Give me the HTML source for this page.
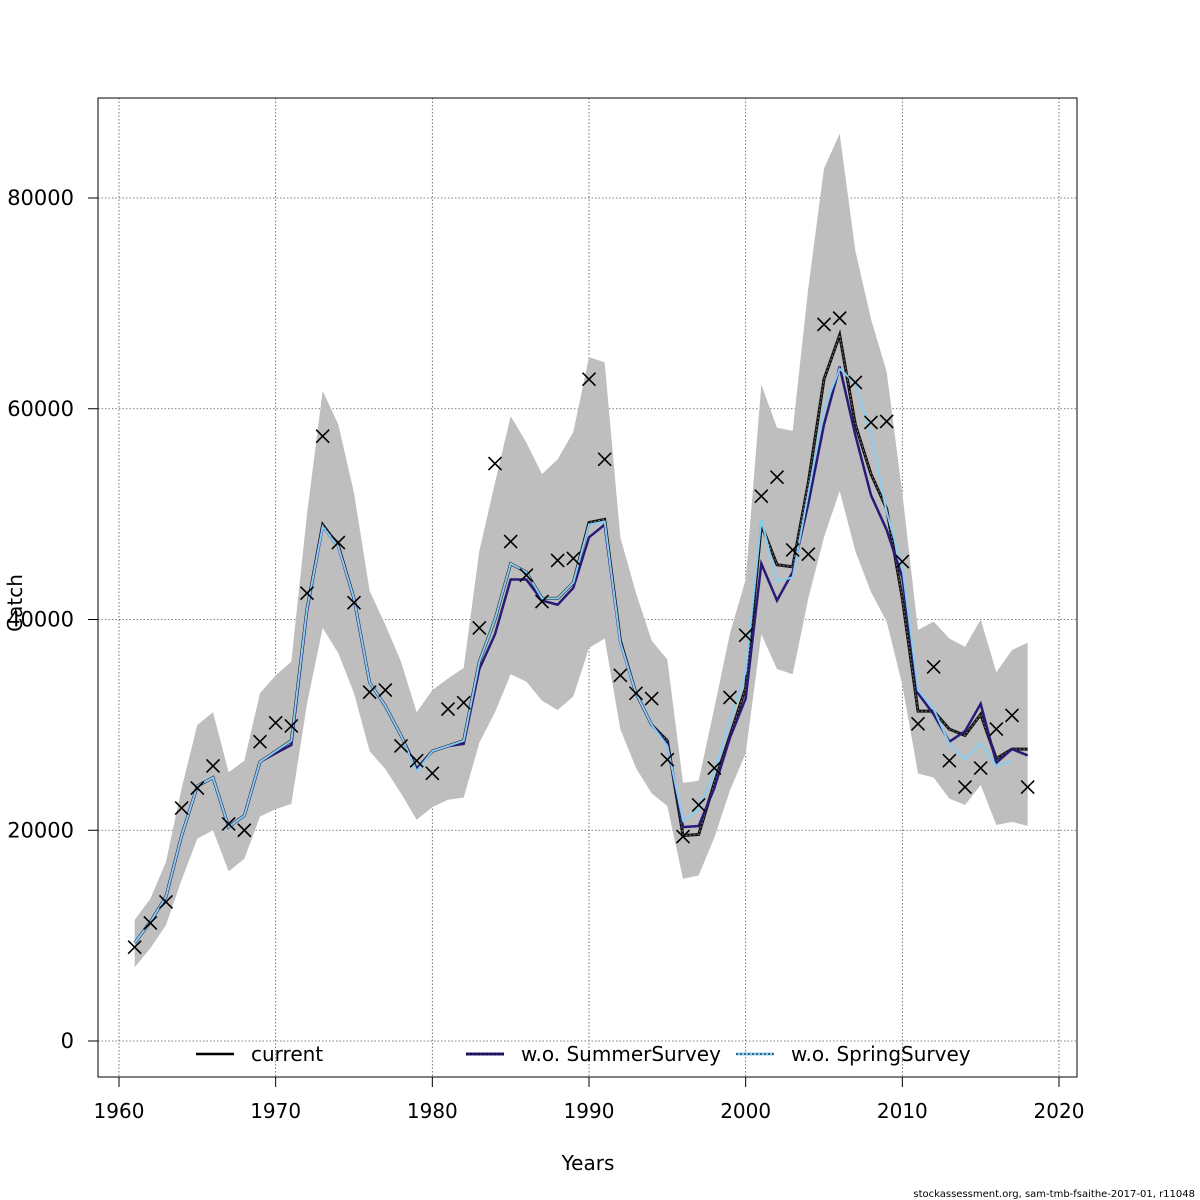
<!DOCTYPE html>
<html><head><meta charset="utf-8"><style>
body{margin:0;background:#fff}
svg{display:block;font-family:"DejaVu Sans","Liberation Sans",sans-serif}
</style></head><body>
<svg id="chart" width="1200" height="1200" viewBox="0 0 1200 1200" xmlns="http://www.w3.org/2000/svg">
<g id="grid"></g>
<g id="band"></g>
<g id="lines"></g>
<g id="obs"></g>
<rect x="98" y="98" width="979" height="979" fill="none" stroke="#000" stroke-width="1"/>
<g id="axes"></g>
<text x="588" y="1170" font-size="20" text-anchor="middle">Years</text>
<text x="22" y="603" font-size="20" text-anchor="middle" transform="rotate(-90 22 603)">Catch</text>
<g font-size="20">
 <g>
  <line x1="196" y1="1054" x2="234" y2="1054" stroke="#000" stroke-width="2.5"/>
  <text x="251" y="1061">current</text>
 </g>
 <g>
  <line x1="466" y1="1054" x2="504" y2="1054" stroke="#2a1a78" stroke-width="3"/>
  <line x1="466" y1="1054" x2="504" y2="1054" stroke="#000" stroke-width="1" stroke-dasharray="2,2"/>
  <text x="521" y="1061">w.o. SummerSurvey</text>
 </g>
 <g>
  <line x1="736" y1="1054" x2="774" y2="1054" stroke="#87cdf0" stroke-width="3"/>
  <line x1="736" y1="1054" x2="774" y2="1054" stroke="#000" stroke-width="1" stroke-dasharray="2,2"/>
  <text x="791" y="1061">w.o. SpringSurvey</text>
 </g>
</g>
<text x="1195" y="1197" font-size="10" text-anchor="end">stockassessment.org, sam-tmb-fsaithe-2017-01, r11048</text>
</svg>
<script>
const years=[];for(let y=1961;y<=2018;y++)years.push(y);
const observed=[8900,11200,13200,22100,24000,26100,20600,20000,28400,30200,29900,42500,57400,47300,41600,33100,33300,28000,26600,25400,31500,32100,39200,54800,47400,44200,41700,45600,45800,62800,55200,34700,33000,32500,26700,19400,22400,25900,32600,38500,51700,53500,46600,46200,68000,68600,62500,58700,58800,45500,30100,35500,26600,24100,25900,29600,30900,24100];
const current=[9300,11300,13700,19500,24200,25000,20300,21400,26500,27500,28500,41000,49000,47000,42000,34000,31800,29000,25800,27500,28000,28500,36000,40000,45300,44500,42000,42000,43500,49200,49500,38000,33000,30000,28500,19500,19600,24500,29000,33500,49000,45200,45000,53000,62800,67000,58500,53800,50500,42000,31300,31300,29600,29000,31000,26800,27700,27700];
const summer=[9300,11300,13700,19500,24200,25000,20300,21400,26500,27300,28100,40800,48800,46900,41900,34000,31800,29000,25800,27500,28000,28200,35300,38600,43800,43800,41800,41400,43000,47800,49000,37800,33000,30000,28200,20300,20400,24000,28800,32500,45300,41800,44500,51000,58500,64000,57500,51800,48500,44000,33000,31000,28400,29400,32000,26400,27700,27100];
const spring=[9300,11300,13700,19500,24200,25000,20300,21400,26500,27500,28500,41000,48800,46900,42000,34000,31800,29000,25600,27500,28000,28500,36000,40000,45300,44500,42000,42000,43500,49000,49300,37800,33000,30000,28000,20900,22000,25500,30500,35000,49500,43600,44000,52000,60000,63800,62400,57500,50200,45000,33300,31500,28200,26700,28300,26100,26600];
const upper=[11500,13500,17000,24000,30000,31200,25500,26600,33000,34700,36000,50000,61700,58500,52000,42700,39500,36000,31200,33300,34400,35400,46500,53000,59300,56800,53800,55200,57800,64900,64400,47800,42500,38000,36200,24500,24700,31600,38700,43800,62300,58200,57900,71500,82800,86100,75000,68500,63500,52000,39000,39800,38200,37400,40000,35000,37100,37800];
const lower=[7000,8800,11000,15300,19200,20000,16100,17300,21300,22000,22500,32000,39200,36800,33000,27500,25800,23500,21000,22200,22900,23100,28300,31200,34800,34100,32300,31400,32700,37300,38200,29600,25900,23500,22300,15400,15700,19300,23800,27300,38600,35300,34800,42000,47800,52200,46500,42600,39800,33800,25400,25000,23000,22400,24300,20500,20800,20400];
const xTicks=[1960,1970,1980,1990,2000,2010,2020];
const yTicks=[0,20000,40000,60000,80000];

const NS="http://www.w3.org/2000/svg";
const X=y=>119+(y-1960)*(940/60);
const Y=v=>1041-v*(843/80000);
function mk(tag,attrs,parent){const e=document.createElementNS(NS,tag);for(const k in attrs)e.setAttribute(k,attrs[k]);parent.appendChild(e);return e;}
const grid=document.getElementById('grid'),axes=document.getElementById('axes');
xTicks.forEach(t=>{
 const g=mk('line',{x1:X(t),x2:X(t),y1:98,y2:1077,stroke:'#555','stroke-width':0.8,'stroke-dasharray':'1.5,2'},grid);
 
 
 const tk=mk('line',{x1:X(t),x2:X(t),y1:1077,y2:1087,stroke:'#000'},axes);
 
 
 const tx=mk('text',{x:X(t),y:1118,'font-size':20,'text-anchor':'middle'},axes);tx.textContent=t;
 
 
});
yTicks.forEach(t=>{
 const g=mk('line',{x1:98,x2:1077,y1:Y(t),y2:Y(t),stroke:'#555','stroke-width':0.8,'stroke-dasharray':'1.5,2'},grid);
 
 
 const tk=mk('line',{x1:88,x2:98,y1:Y(t),y2:Y(t),stroke:'#000'},axes);
 
 
 const tx=mk('text',{x:74,y:Y(t)+7,'font-size':21,'text-anchor':'end'},axes);tx.textContent=t;
 
 
});
let pts=years.map((y,i)=>X(y)+','+Y(upper[i]));
for(let i=years.length-1;i>=0;i--)pts.push(X(years[i])+','+Y(lower[i]));
const band=mk('polygon',{points:pts.join(' '),fill:'#bebebe',stroke:'none'},document.getElementById('band'));


const L=document.getElementById('lines');
function line(arr,attrs,name){
 const p=arr.map((v,i)=>X(years[i])+','+Y(v)).join(' ');
 const e=mk('polyline',Object.assign({points:p,fill:'none','stroke-linejoin':'miter'},attrs),L);
 
 
}
line(current,{stroke:'#111','stroke-width':3},'line-current');
line(current,{stroke:'#777','stroke-width':1,'stroke-dasharray':'2,2'},'line-current-dots');
line(summer,{stroke:'#2a1a78','stroke-width':2.5},'line-summer');
line(spring,{stroke:'#87cdf0','stroke-width':2},'line-spring');
const O=document.getElementById('obs');
observed.forEach((v,i)=>{
 const x=X(years[i]),y=Y(v),s=6.5;
 const g=mk('path',{d:`M${x-s},${y-s}L${x+s},${y+s}M${x-s},${y+s}L${x+s},${y-s}`,stroke:'#000','stroke-width':1.6,fill:'none'},O);
 
 
});
</script>
</body></html>
